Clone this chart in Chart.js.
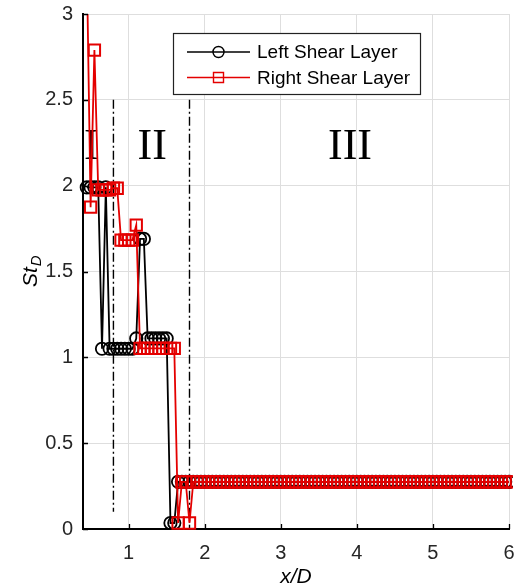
<!DOCTYPE html>
<html>
<head>
<meta charset="utf-8">
<script src="https://cdn.jsdelivr.net/npm/chart.js@4/dist/chart.umd.min.js"></script>
<style>
  html, body { margin: 0; padding: 0; background: #ffffff; }
  canvas { display: block; }
</style>
</head>
<body>
<canvas id="c" width="519" height="584"></canvas>
<script>
// Streamwise positions x/D of the sampled stations
const xD = [
  0.45,0.50,0.55,0.60,0.65,0.70,0.75,0.80,0.85,0.90,
  0.95,1.00,1.05,1.10,1.15,1.20,1.25,1.30,1.35,1.40,
  1.45,1.50,1.55,1.60,1.65,1.70,1.75,1.80,1.85,1.90,
  1.95,2.00,2.05,2.10,2.15,2.20,2.25,2.30,2.35,2.40,
  2.45,2.50,2.55,2.60,2.65,2.70,2.75,2.80,2.85,2.90,
  2.95,3.00,3.05,3.10,3.15,3.20,3.25,3.30,3.35,3.40,
  3.45,3.50,3.55,3.60,3.65,3.70,3.75,3.80,3.85,3.90,
  3.95,4.00,4.05,4.10,4.15,4.20,4.25,4.30,4.35,4.40,
  4.45,4.50,4.55,4.60,4.65,4.70,4.75,4.80,4.85,4.90,
  4.95,5.00,5.05,5.10,5.15,5.20,5.25,5.30,5.35,5.40,
  5.45,5.50,5.55,5.60,5.65,5.70,5.75,5.80,5.85,5.90,
  5.95,6.00
];

// Dominant Strouhal number St_D, left shear layer
const leftShearLayer = [
  1.99,1.99,1.99,1.99,1.05,1.99,1.05,1.05,1.05,1.05,
  1.05,1.05,1.05,1.11,1.69,1.69,1.11,1.11,1.11,1.11,
  1.11,1.11,0.035,0.035,0.275,0.275,0.275,0.275,0.275,0.275,
  0.275,0.275,0.275,0.275,0.275,0.275,0.275,0.275,0.275,0.275,
  0.275,0.275,0.275,0.275,0.275,0.275,0.275,0.275,0.275,0.275,
  0.275,0.275,0.275,0.275,0.275,0.275,0.275,0.275,0.275,0.275,
  0.275,0.275,0.275,0.275,0.275,0.275,0.275,0.275,0.275,0.275,
  0.275,0.275,0.275,0.275,0.275,0.275,0.275,0.275,0.275,0.275,
  0.275,0.275,0.275,0.275,0.275,0.275,0.275,0.275,0.275,0.275,
  0.275,0.275,0.275,0.275,0.275,0.275,0.275,0.275,0.275,0.275,
  0.275,0.275,0.275,0.275,0.275,0.275,0.275,0.275,0.275,0.275,
  0.275,0.275
];

// Dominant Strouhal number St_D, right shear layer
const rightShearLayer = [
  3.3,1.875,2.79,1.975,1.975,1.975,1.975,1.985,1.985,1.683,
  1.683,1.683,1.683,1.77,1.052,1.052,1.052,1.052,1.052,1.052,
  1.052,1.052,1.052,1.052,0.035,0.275,0.275,0.035,0.275,0.275,
  0.275,0.275,0.275,0.275,0.275,0.275,0.275,0.275,0.275,0.275,
  0.275,0.275,0.275,0.275,0.275,0.275,0.275,0.275,0.275,0.275,
  0.275,0.275,0.275,0.275,0.275,0.275,0.275,0.275,0.275,0.275,
  0.275,0.275,0.275,0.275,0.275,0.275,0.275,0.275,0.275,0.275,
  0.275,0.275,0.275,0.275,0.275,0.275,0.275,0.275,0.275,0.275,
  0.275,0.275,0.275,0.275,0.275,0.275,0.275,0.275,0.275,0.275,
  0.275,0.275,0.275,0.275,0.275,0.275,0.275,0.275,0.275,0.275,
  0.275,0.275,0.275,0.275,0.275,0.275,0.275,0.275,0.275,0.275,
  0.275,0.275
];

const seriesNames = ['Left Shear Layer', 'Right Shear Layer'];

// Axis ticks
const xTickValues = [1, 2, 3, 4, 5, 6];
const yTickValues = [0, 0.5, 1, 1.5, 2, 2.5, 3];

// Region boundaries (x/D) and their vertical extent
const regionBoundaryX = [0.8, 1.8];
const regionBoundaryTop = [2.5, 2.5];
const regionBoundaryBottom = [0.1, 0];

// Region labels
const regionNames = ['I', 'II', 'III'];
const regionLabelX = [0.51, 1.31, 3.91];
const regionLabelY = [2.22, 2.22, 2.22];

const RED = 'rgb(228,0,0)';
const BLACK = '#000000';
const SANS = '"Liberation Sans", Arial, Helvetica, sans-serif';
const SERIF = '"Liberation Serif", "Times New Roman", serif';

const toPoints = (ys) => xD.map((x, i) => ({ x: x, y: ys[i] }));

const boundaryDatasets = regionBoundaryX.map((bx, i) => ({
  label: 'boundary' + i,
  data: [{ x: bx, y: regionBoundaryTop[i] }, { x: bx, y: regionBoundaryBottom[i] }],
  borderColor: BLACK,
  borderWidth: 1.4,
  borderDash: [9, 3, 2, 3],
  pointRadius: 0,
  fill: false,
  order: 3
}));

const leftDataset = {
  label: seriesNames[0],
  data: toPoints(leftShearLayer),
  borderColor: BLACK,
  borderWidth: 1.8,
  pointStyle: 'circle',
  pointRadius: 6.2,
  pointBorderWidth: 1.8,
  pointBorderColor: BLACK,
  pointBackgroundColor: 'rgba(0,0,0,0)',
  fill: false,
  tension: 0,
  clip: { left: 8, right: 4, top: 0, bottom: 8 },
  order: 2
};

const rightDataset = {
  label: seriesNames[1],
  data: toPoints(rightShearLayer),
  borderColor: RED,
  borderWidth: 1.8,
  pointStyle: 'rect',
  pointRadius: 8,
  pointBorderWidth: 2,
  pointBorderColor: RED,
  pointBackgroundColor: 'rgba(0,0,0,0)',
  fill: false,
  tension: 0,
  clip: { left: 8, right: 4, top: 0, bottom: 8 },
  order: 1
};

// Inward tick marks on the left and bottom axes
const innerTicks = {
  id: 'innerTicks',
  afterDatasetsDraw(chart) {
    const { ctx, chartArea, scales } = chart;
    ctx.save();
    ctx.strokeStyle = BLACK;
    ctx.lineWidth = 1.3;
    ctx.beginPath();
    xTickValues.forEach(v => {
      const px = Math.round(scales.x.getPixelForValue(v)) + 0.5;
      ctx.moveTo(px, chartArea.bottom);
      ctx.lineTo(px, chartArea.bottom - 5);
    });
    yTickValues.forEach(v => {
      const py = Math.round(scales.y.getPixelForValue(v)) + 0.5;
      ctx.moveTo(chartArea.left, py);
      ctx.lineTo(chartArea.left + 5, py);
    });
    ctx.stroke();
    ctx.restore();
  }
};

// Region numerals I, II, III
const regionLabels = {
  id: 'regionLabels',
  beforeDatasetsDraw(chart) {
    const { ctx, scales } = chart;
    ctx.save();
    ctx.fillStyle = BLACK;
    ctx.font = '44px ' + SERIF;
    ctx.textAlign = 'center';
    ctx.textBaseline = 'middle';
    regionNames.forEach((t, i) => {
      ctx.fillText(t, scales.x.getPixelForValue(regionLabelX[i]), scales.y.getPixelForValue(regionLabelY[i]));
    });
    ctx.restore();
  }
};

// Axis titles: St_D (rotated, with subscript) and x/D
const axisTitles = {
  id: 'axisTitles',
  afterDraw(chart) {
    const { ctx, chartArea } = chart;
    ctx.save();
    ctx.fillStyle = BLACK;
    ctx.font = 'italic 21px ' + SANS;
    ctx.textAlign = 'center';
    ctx.textBaseline = 'alphabetic';
    ctx.fillText('x/D', (chartArea.left + chartArea.right) / 2, 583);
    ctx.translate(37, 287);
    ctx.rotate(-Math.PI / 2);
    ctx.textAlign = 'left';
    ctx.font = 'italic 21px ' + SANS;
    ctx.fillText('St', 0, 0);
    const w = ctx.measureText('St').width;
    ctx.font = 'italic 15px ' + SANS;
    ctx.fillText('D', w + 1, 4);
    ctx.restore();
  }
};

// Legend box in the upper part of the plot
const legendBox = {
  id: 'legendBox',
  afterDraw(chart) {
    const { ctx, chartArea } = chart;
    const x0 = chartArea.left + 90, y0 = chartArea.top + 19;
    const w = 247, h = 61;
    ctx.save();
    ctx.fillStyle = '#ffffff';
    ctx.fillRect(x0, y0, w, h);
    ctx.strokeStyle = '#222222';
    ctx.lineWidth = 1.2;
    ctx.strokeRect(x0 + 0.5, y0 + 0.5, w, h);
    const rows = [leftDataset, rightDataset];
    rows.forEach((ds, i) => {
      const cy = y0 + 19 + i * 25.5;
      ctx.strokeStyle = ds.borderColor;
      ctx.lineWidth = 1.5;
      ctx.beginPath();
      ctx.moveTo(x0 + 14, cy);
      ctx.lineTo(x0 + 77, cy);
      ctx.stroke();
      const mx = x0 + 45.5;
      ctx.lineWidth = 1.4;
      ctx.beginPath();
      if (ds.pointStyle === 'circle') {
        ctx.arc(mx, cy, 5.5, 0, Math.PI * 2);
      } else {
        const s = 5;
        ctx.rect(mx - s, cy - s, 2 * s, 2 * s);
      }
      ctx.stroke();
      ctx.fillStyle = BLACK;
      ctx.font = '19px ' + SANS;
      ctx.textAlign = 'left';
      ctx.textBaseline = 'middle';
      ctx.fillText(ds.label, x0 + 84, cy + 1);
    });
    ctx.restore();
  }
};

new Chart(document.getElementById('c'), {
  type: 'line',
  data: { datasets: [leftDataset, rightDataset, ...boundaryDatasets] },
  options: {
    responsive: false,
    animation: false,
    layout: { padding: { top: 14, right: 10, left: 0, bottom: 0 } },
    plugins: { legend: { display: false }, tooltip: { enabled: false } },
    scales: {
      x: {
        type: 'linear',
        min: 0.4,
        max: 6,
        afterBuildTicks(s) { s.ticks = xTickValues.map(v => ({ value: v })); },
        afterFit(s) { s.height = 55; s.paddingLeft = 0; s.paddingRight = 0; },
        grid: { color: '#dedede', lineWidth: 1, drawTicks: false },
        border: { color: BLACK, width: 2 },
        ticks: {
          color: '#262626',
          font: { family: SANS, size: 20 },
          padding: 12,
          maxRotation: 0,
          callback: (v) => String(v)
        }
      },
      y: {
        type: 'linear',
        min: 0,
        max: 3,
        afterBuildTicks(s) { s.ticks = yTickValues.map(v => ({ value: v })); },
        afterFit(s) { s.width = 83; s.paddingTop = 0; s.paddingBottom = 0; },
        grid: { color: '#dedede', lineWidth: 1, drawTicks: false },
        border: { color: BLACK, width: 2 },
        ticks: {
          color: '#262626',
          font: { family: SANS, size: 20 },
          padding: 10,
          callback: (v) => String(v)
        }
      }
    }
  },
  plugins: [regionLabels, innerTicks, axisTitles, legendBox]
});
</script>
</body>
</html>
